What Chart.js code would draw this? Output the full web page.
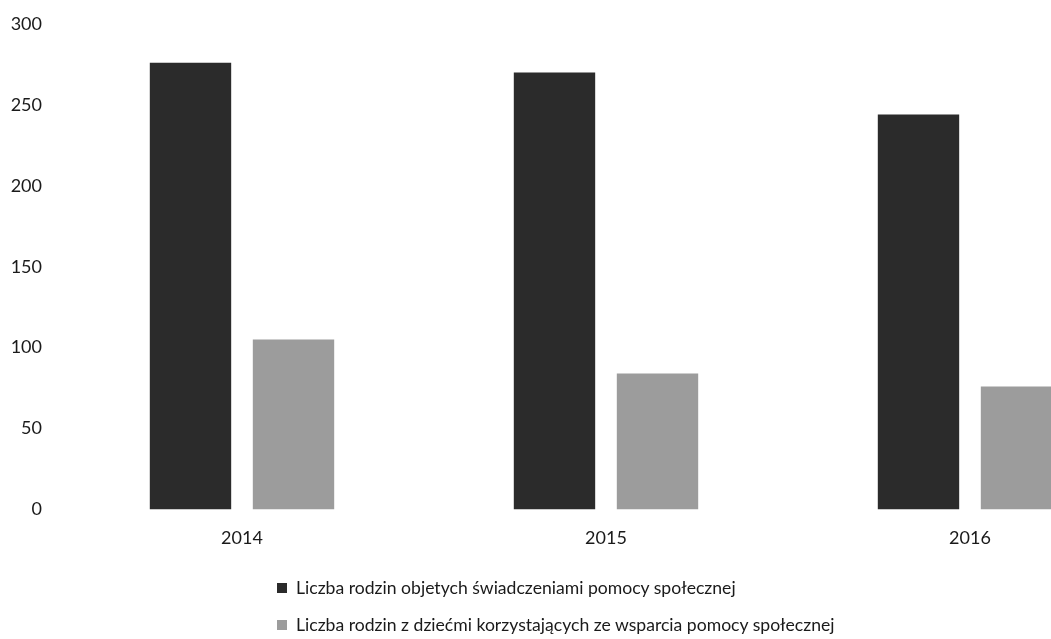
<!DOCTYPE html>
<html>
<head>
<meta charset="utf-8">
<script src="https://cdn.jsdelivr.net/npm/chart.js@4"></script>
<style>
  html, body { margin: 0; padding: 0; background: #fff; width: 1051px; height: 639px; overflow: hidden; }
  #wrap { position: absolute; left: 0; top: 0; width: 1160px; height: 578px; }
  #legend { position: absolute; left: 277px; top: 569px; font-family: Lato, "Open Sans", sans-serif; font-size: 17.6px; color: #1a1a1a; }
  .item { height: 37px; display: flex; align-items: center; white-space: nowrap; }
  .sw { width: 10px; height: 10px; margin-right: 9px; display: inline-block; }
</style>
</head>
<body>
<div id="wrap"><canvas id="c" width="1160" height="578"></canvas></div>
<div id="legend"></div>
<script>
const categories = ["2014", "2015", "2016"];
const seriesNames = [
  "Liczba rodzin objetych świadczeniami pomocy społecznej",
  "Liczba rodzin z dziećmi korzystających ze wsparcia pomocy społecznej"
];
const familiesSupported = [276, 270, 244];
const familiesWithChildren = [105, 84, 76];
const yTicks = [0, 50, 100, 150, 200, 250, 300];
const colors = ["#2b2b2b", "#9c9c9c"];

const font = { family: "Lato, 'Open Sans', sans-serif", size: 18 };

new Chart(document.getElementById("c"), {
  type: "bar",
  data: {
    labels: categories,
    datasets: [
      { label: seriesNames[0], data: familiesSupported, backgroundColor: colors[0], categoryPercentage: 0.566, barPercentage: 0.79 },
      { label: seriesNames[1], data: familiesWithChildren, backgroundColor: colors[1], categoryPercentage: 0.566, barPercentage: 0.79 }
    ]
  },
  options: {
    responsive: false,
    animation: false,
    layout: { padding: { left: 11, right: 8, top: 24, bottom: 11 } },
    plugins: { legend: { display: false }, tooltip: { enabled: false } },
    scales: {
      x: {
        grid: { display: false, drawTicks: false },
        border: { display: false },
        ticks: { color: "#1a1a1a", font: font, padding: 18 }
      },
      y: {
        min: 0, max: 300,
        afterBuildTicks: (axis) => { axis.ticks = yTicks.map(v => ({ value: v })); },
        afterFit: (axis) => { axis.width = 49; axis.paddingTop = 0; axis.paddingBottom = 0; },
        grid: { display: false, drawTicks: false },
        border: { display: false },
        ticks: { color: "#1a1a1a", font: font, padding: 18 }
      }
    }
  }
});

const legend = document.getElementById("legend");
seriesNames.forEach((name, i) => {
  const row = document.createElement("div");
  row.className = "item";
  const sw = document.createElement("span");
  sw.className = "sw";
  sw.style.background = colors[i];
  row.appendChild(sw);
  row.appendChild(document.createTextNode(name));
  legend.appendChild(row);
});
</script>
</body>
</html>
